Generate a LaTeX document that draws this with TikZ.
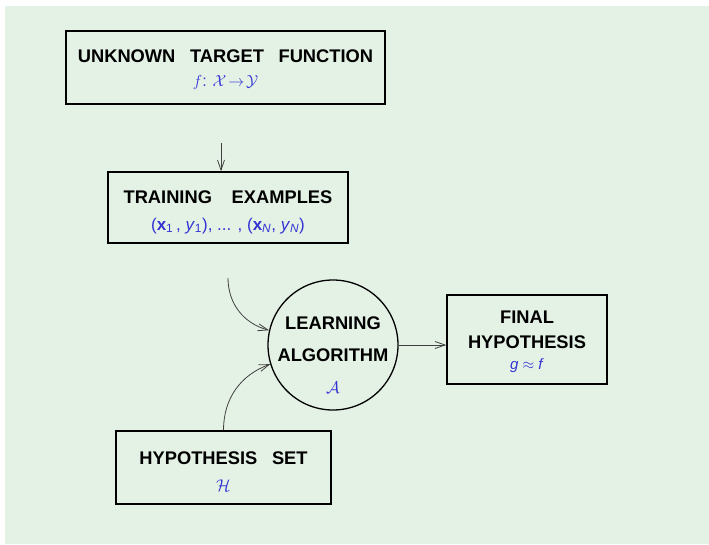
\RequirePackage{fix-cm}
\documentclass[tikz,border=0pt]{standalone}
\usepackage{fontspec}
\setmainfont{Liberation Sans}
\usetikzlibrary{arrows.meta,positioning}
\definecolor{bgcol}{HTML}{E4F2E6}
\definecolor{mathblue}{HTML}{3434D2}
\definecolor{wire}{HTML}{404040}
\tikzset{
  heading/.style={font=\fontsize{18.3}{24}\selectfont\bfseries},
  flow/.style={draw=wire,line width=0.8pt,-{Straight Barb[length=10pt,width=7pt]}}
}
\newcommand{\gap}{\hspace{0.8em}}
\newcommand{\lift}[1]{\rule{0pt}{#1}}
\newcommand{\mth}[1]{{\color{mathblue}\mdseries\fontsize{15}{18}\selectfont #1}}
\begin{document}
\begin{tikzpicture}[x=1pt,y=-1pt]

  \fill[bgcol] (5,6) rectangle (709,544);
  \useasboundingbox (0,0) rectangle (709,544);

  \begin{scope}[every node/.style={draw=black,line width=1.6pt,heading,align=center,inner sep=0pt}]
    \node[minimum width=319,minimum height=73] (target) at (225.5,67.5)
      {\lift{17pt}UNKNOWN\gap TARGET\gap FUNCTION\\[0pt] \mth{\fontsize{16}{18}\selectfont$f$: $\mathcal{X}\!\to\!\mathcal{Y}$}};
    \node[minimum width=240,minimum height=71] (train) at (228,207.5)
      {\lift{22pt}TRAINING\gap\ EXAMPLES\\[3pt] \mth{\fontsize{17}{18}\selectfont(\textbf{x}\textsubscript{1}\,, \textit{y}\textsubscript{1}), ... , (\textbf{x}\textsubscript{\textit{N}}, \textit{y}\textsubscript{\textit{N}})}};
    \node[circle,line width=1.3pt,minimum size=130] (alg) at (333,345) {};
    \node[minimum width=160,minimum height=89] (final) at (527,339.5)
      {\lift{18pt}FINAL\\[1pt] HYPOTHESIS\\[-3pt] \mth{\textit{g} $\approx$ \textit{f}}};
    \node[minimum width=215,minimum height=73] (hypset) at (223.5,467.5)
      {\lift{20pt}HYPOTHESIS\gap SET\\[3pt] \mth{\fontsize{17}{18}\selectfont$\mathcal{H}$}};
  \end{scope}

  \node[heading,align=center,inner sep=0pt] (algtext) at (333,355)
    {LEARNING\\[8pt] ALGORITHM\\[8pt] \mth{\fontsize{17}{18}\selectfont$\mathcal{A}$}};

  \coordinate (samples) at (221,143);
  \coordinate (pick) at (228,278);

  \draw[flow] (samples) -- (samples |- train.north);
  \draw[flow] (pick) to[out=-90,in=165] (alg.167);
  \draw[flow] (hypset.north) to[out=90,in=200] (alg.197);
  \draw[flow] (alg.east) -- (alg.east -| final.west);

\end{tikzpicture}
\end{document}
